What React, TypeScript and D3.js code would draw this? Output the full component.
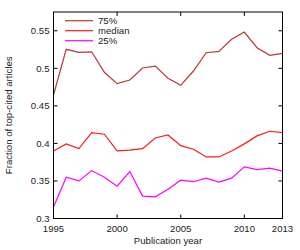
import React from "react";
import * as d3 from "d3";

const years = [1995,1996,1997,1998,1999,2000,2001,2002,2003,2004,2005,2006,2007,2008,2009,2010,2011,2012,2013];
const p75 = [0.4645,0.5253,0.5213,0.522,0.4947,0.4796,0.4845,0.5004,0.503,0.4867,0.4774,0.4964,0.5208,0.5226,0.5386,0.5483,0.5274,0.5173,0.52];
const median = [0.390,0.3994,0.3931,0.4144,0.4122,0.390,0.391,0.393,0.4073,0.4113,0.397,0.3923,0.382,0.382,0.390,0.3994,0.410,0.4162,0.4144];
const p25 = [0.3152,0.355,0.3501,0.3638,0.355,0.343,0.3625,0.3298,0.3289,0.339,0.351,0.349,0.3537,0.3484,0.3537,0.3688,0.3652,0.367,0.363];
const xTicks = [1995, 2000, 2005, 2010, 2013];
const yTicks = [0.3, 0.35, 0.4, 0.45, 0.5, 0.55];
const seriesNames = ["75%", "median", "25%"];
const seriesColors = ["#bf3535", "#ff1a1a", "#ff00ff"];

export default function App() {
  const W = 300, H = 250;
  const left = 53.5, right = 282.5, top = 12, bottom = 218.5;
  const x = d3.scaleLinear().domain([1995, 2013]).range([left, right]);
  const y = d3.scaleLinear().domain([0.3, 0.575]).range([bottom, top]);
  const line = d3.line<number>().x((_, i) => x(years[i])).y((d) => y(d));
  const series = [p75, median, p25];
  const font = "'Liberation Sans', Arial, sans-serif";
  const fs = 9.6;
  const tl = 4;
  return (
    <svg width={W} height={H} style={{ position: "absolute", left: 0, top: 0 }} fontFamily={font}>
      <rect width={W} height={H} fill="white" />
      {series.map((s, k) => (
        <path key={k} d={line(s) || ""} fill="none" stroke={seriesColors[k]} strokeWidth={1.2} />
      ))}
      <rect x={left} y={top} width={right - left} height={bottom - top} fill="none" stroke="black" strokeWidth={1} />
      {yTicks.map((t) => (
        <g key={t}>
          <line x1={left} x2={left + tl} y1={y(t)} y2={y(t)} stroke="black" />
          <line x1={right} x2={right - tl} y1={y(t)} y2={y(t)} stroke="black" />
          <text x={left - 4} y={y(t)} dy="0.35em" textAnchor="end" fontSize={fs} fill="#222">{t}</text>
        </g>
      ))}
      {xTicks.map((t) => (
        <g key={t}>
          <line x1={x(t)} x2={x(t)} y1={bottom} y2={bottom - tl} stroke="black" />
          <line x1={x(t)} x2={x(t)} y1={top} y2={top + tl} stroke="black" />
          <text x={x(t)} y={232} textAnchor="middle" fontSize={fs} fill="#222">{t}</text>
        </g>
      ))}
      <text x={(left + right) / 2} y={244} textAnchor="middle" fontSize={fs} fill="#222">Publication year</text>
      <text transform={`translate(11.5, ${(top + bottom) / 2}) rotate(-90)`} textAnchor="middle" fontSize={fs} fill="#222">Fraction of top-cited articles</text>
      {seriesNames.map((n, k) => (
        <g key={n}>
          <line x1={65} x2={93} y1={20.7 + k * 10} y2={20.7 + k * 10} stroke={seriesColors[k]} strokeWidth={1.2} />
          <text x={98} y={20.7 + k * 10} dy="0.35em" fontSize={fs} fill="#222">{n}</text>
        </g>
      ))}
    </svg>
  );
}
